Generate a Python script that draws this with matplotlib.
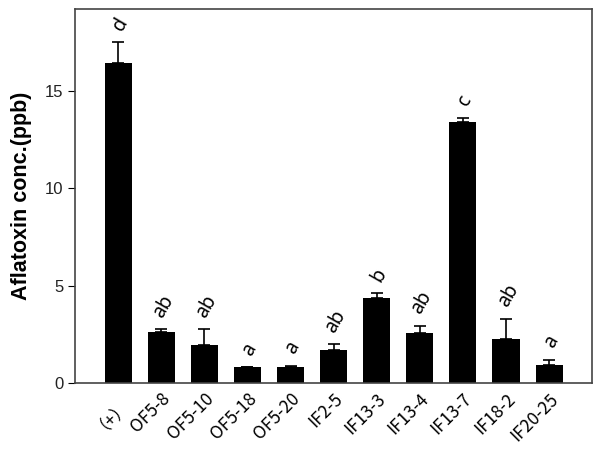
import matplotlib
matplotlib.use("Agg")
import matplotlib.pyplot as plt
import numpy as np

strains = ["（+）", "OF5-8", "OF5-10", "OF5-18", "OF5-20", "IF2-5",
           "IF13-3", "IF13-4", "IF13-7", "IF18-2", "IF20-25"]
means = [16.45, 2.62, 1.93, 0.82, 0.84, 1.68, 4.38, 2.57, 13.4, 2.24, 0.93]
errs = [1.05, 0.13, 0.82, 0.0, 0.05, 0.33, 0.24, 0.38, 0.22, 1.06, 0.27]
groups = ["d", "ab", "ab", "a", "a", "ab", "b", "ab", "c", "ab", "a"]

fig = plt.figure(figsize=(6, 4.57), dpi=100)
ax = fig.add_axes([0.125, 0.162, 0.862, 0.818])

xs = np.arange(len(strains))
ax.bar(xs, means, width=0.63, color="black", zorder=2)
ax.errorbar(xs, means, yerr=[np.zeros(len(errs)), errs], linestyle="none",
            ecolor="black", elinewidth=1.2, capsize=4, capthick=1.2, zorder=3)

# significance letters above each bar
for x, m, e, g in zip(xs, means, errs, groups):
    ax.text(x + 0.05, m + e + 0.4, g, rotation=60, ha="center", va="bottom",
            fontsize=14, family="Noto Sans")

ax.set_xlim(-1, 11)
ax.set_ylim(0, 19.2)
ax.set_yticks([0, 5, 10, 15])
ax.tick_params(axis="y", direction="out", length=5, labelsize=12)
ax.tick_params(axis="x", length=0, pad=5)
ax.set_xticks(xs)
ax.set_xticklabels(strains, rotation=45, ha="right", rotation_mode="anchor",
                   fontsize=12.5, family="Noto Sans CJK KR")
for lab in ax.get_yticklabels():
    lab.set_family("Liberation Sans")
    lab.set_color("#222222")
ax.set_ylabel("Aflatoxin conc.(ppb)", fontsize=15.5, fontweight="bold",
              family="Liberation Sans", labelpad=9)
for s in ax.spines.values():
    s.set_color("#444444")
    s.set_linewidth(1.2)

fig.savefig("out.png", dpi=100)
